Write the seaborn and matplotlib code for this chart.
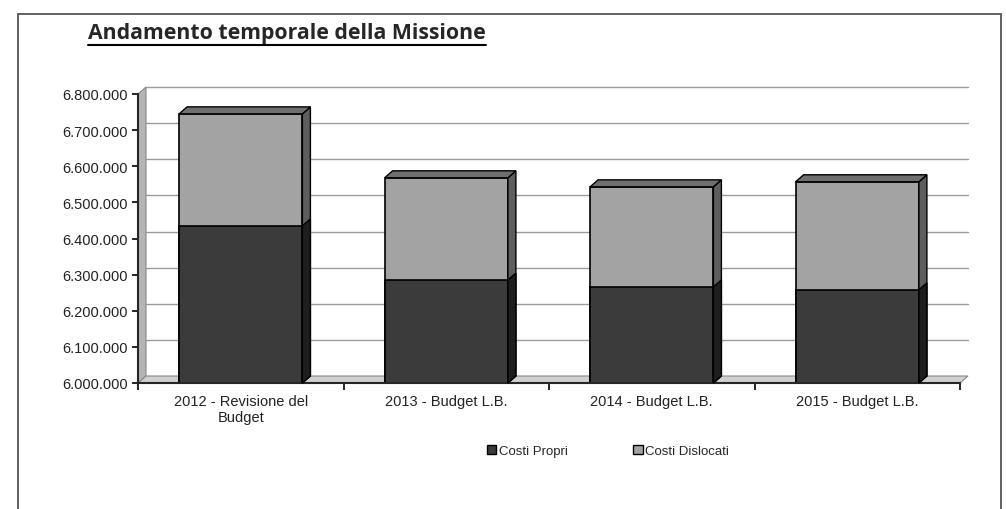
import numpy as np
import pandas as pd
import matplotlib.pyplot as plt
import matplotlib.transforms as mtransforms
from matplotlib.patches import Polygon, Rectangle, Patch
from matplotlib.lines import Line2D
from matplotlib.ticker import FuncFormatter
import seaborn as sns

### Data
categories = ["2012 - Revisione del\nBudget", "2013 - Budget L.B.", "2014 - Budget L.B.", "2015 - Budget L.B."]
costi_propri = [6435000, 6285000, 6266000, 6258000]
costi_dislocati = [310000, 283000, 277000, 299000]

totals = [p + d for p, d in zip(costi_propri, costi_dislocati)]
df = pd.DataFrame({"categoria": categories, "propri": costi_propri, "totale": totals})

sns.set_style("white")
plt.rcParams["font.family"] = ["Liberation Sans Narrow", "Liberation Sans", "DejaVu Sans"]

fig = plt.figure(figsize=(10.06, 5.10), dpi=100)
ax = fig.add_axes([138 / 1006, 126 / 510, 822 / 1006, 289 / 510])
ax.set_facecolor("none")

dark = "#3b3b3b"
light = "#a3a3a3"

sns.barplot(data=df, x="categoria", y="totale", color=light, width=0.6,
            edgecolor="black", linewidth=1.2, saturation=1, ax=ax)
sns.barplot(data=df, x="categoria", y="propri", color=dark, width=0.6,
            edgecolor="black", linewidth=1.2, saturation=1, ax=ax)

ax.set_ylim(6000000, 6800000)
ax.set_xlim(-0.5, 3.5)
ax.set_yticks(np.arange(6000000, 6800001, 100000))
ax.yaxis.set_major_formatter(FuncFormatter(lambda v, p: f"{int(v):,}".replace(",", ".")))
ax.set_xlabel("")
ax.set_ylabel("")
ax.tick_params(axis="both", labelsize=10.5, colors="#222222")
ax.tick_params(axis="y", left=True, direction="out", color="black", length=4, width=1.2)
ax.set_xticks([-0.5, 0.5, 1.5, 2.5, 3.5], minor=True)
ax.tick_params(axis="x", which="minor", bottom=True, length=5, width=1.2, color="black")
ax.tick_params(axis="x", which="major", length=0, pad=8)

for s in ["top", "right"]:
    ax.spines[s].set_visible(False)
ax.spines["left"].set_linewidth(1.5)
ax.spines["bottom"].set_linewidth(1.5)

dx, dy = 8, 7
depth = mtransforms.ScaledTranslation(dx / 100, dy / 100, fig.dpi_scale_trans)

# back wall gridlines, pushed back by the depth offset
for v in np.arange(6100000, 6800001, 100000):
    ax.plot([-0.5, 3.5], [v, v], color="#9a9a9a", lw=1.0, zorder=0,
            transform=ax.transData + depth, clip_on=False)

fig.canvas.draw()

# left wall and floor as parallelograms, behind the axes
(lx0, by0), (rx1, ty1) = ax.transData.transform([[-0.5, 6000000], [3.5, 6800000]])
fig.add_artist(Polygon([[lx0, by0], [lx0 + dx, by0 + dy], [lx0 + dx, ty1 + dy], [lx0, ty1]],
                       closed=True, facecolor="#b5b5b5", edgecolor="#888888", lw=0.8,
                       transform=None, zorder=-1))
fig.add_artist(Polygon([[lx0, by0], [lx0 + dx, by0 + dy], [rx1 + dx, by0 + dy], [rx1, by0]],
                       closed=True, facecolor="#d0d0d0", edgecolor="#888888", lw=0.8,
                       transform=None, zorder=-1))

# 3D sides and tops of the bars
for patch in list(ax.patches):
    if not isinstance(patch, Rectangle) or patch.get_width() > 1:
        continue
    x0 = patch.get_x()
    x1 = x0 + patch.get_width()
    h = patch.get_height()
    is_dark = patch.get_facecolor()[0] < 0.5
    side_col = "#1e1e1e" if is_dark else "#5e5e5e"
    (sx, sy0), (_, sy1) = ax.transData.transform([[x1, 6000000], [x1, h]])
    side = Polygon([[sx, sy0], [sx + dx, sy0 + dy], [sx + dx, sy1 + dy], [sx, sy1]],
                   closed=True, facecolor=side_col, edgecolor="black", lw=1.0,
                   transform=None, zorder=2 if is_dark else 1.5)
    fig.add_artist(side)
    if not is_dark:
        (tx0, ty), (tx1, _) = ax.transData.transform([[x0, h], [x1, h]])
        top = Polygon([[tx0, ty], [tx0 + dx, ty + dy], [tx1 + dx, ty + dy], [tx1, ty]],
                      closed=True, facecolor="#6f6f6f", edgecolor="black", lw=1.0,
                      transform=None, zorder=2)
        fig.add_artist(top)

# legend
handles = [Patch(facecolor=dark, edgecolor="black", label="Costi Propri"),
           Patch(facecolor=light, edgecolor="black", label="Costi Dislocati")]
fig.legend(handles=handles, loc="center", bbox_to_anchor=(608 / 1006, 1 - 452 / 510), ncol=2,
           frameon=False, fontsize=9.5, handlelength=0.7, handleheight=0.7, handletextpad=0.2,
           columnspacing=5.0)

# title with underline
t = fig.text(88 / 1006, 1 - 34 / 510, "Andamento temporale della Missione", fontsize=15.3,
             fontweight="bold", family=["Open Sans", "DejaVu Sans"], va="center", ha="left")
fig.canvas.draw()
bb = t.get_window_extent()
fig.add_artist(Line2D([bb.x0, bb.x1], [bb.y0 - 1, bb.y0 - 1], color="black", lw=1.5, transform=None))

# outer border
fig.add_artist(Rectangle((18 / 1006, -0.02), 983 / 1006, 1.02 - 15 / 510, transform=fig.transFigure,
                         facecolor="none", edgecolor="#555555", lw=1.3))

plt.savefig("out.png", dpi=100)
